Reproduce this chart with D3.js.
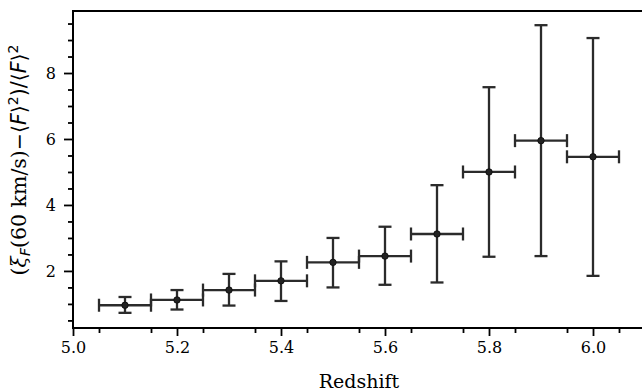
<!DOCTYPE html>
<html><head><meta charset="utf-8">
<script src="https://cdn.jsdelivr.net/npm/d3@7"></script>
<style>body{margin:0;background:#fff}svg{display:block}</style>
</head><body>
<svg id="c" width="642" height="392"></svg>
<script>
const redshift = [5.1, 5.2, 5.3, 5.4, 5.5, 5.6, 5.7, 5.8, 5.9, 6.0];
const values   = [0.96, 1.12, 1.42, 1.70, 2.26, 2.45, 3.12, 5.00, 5.95, 5.46];
const errLow   = [0.73, 0.83, 0.95, 1.09, 1.50, 1.58, 1.65, 2.43, 2.45, 1.85];
const errHigh  = [1.21, 1.42, 1.91, 2.29, 3.00, 3.34, 4.60, 7.57, 9.45, 9.06];
const binHalf  = [0.05, 0.05, 0.05, 0.05, 0.05, 0.05, 0.05, 0.05, 0.05, 0.05];
const xTicks = [5.0, 5.2, 5.4, 5.6, 5.8, 6.0];
const yTicks = [2, 4, 6, 8];

const svg = d3.select("#c");
const L = 73, T = 11, B = 328, R = 645;
const x = d3.scaleLinear().domain([5.0, 6.1]).range([L, R]);
const y = d3.scaleLinear().domain([0.27, 9.88]).range([B, T]);
const ink = "#2b2b2b";
const serif = "DejaVu Serif";

const xAxis = d3.axisBottom(x).tickValues(xTicks).tickFormat(d3.format(".1f")).tickSize(8).tickPadding(6);
const xMinor = d3.axisBottom(x).tickValues(d3.range(5.05, 6.1, 0.1)).tickFormat("").tickSize(5);
const yAxis = d3.axisLeft(y).tickValues(yTicks).tickFormat(d3.format("d")).tickSize(9).tickPadding(8);
const yMinor = d3.axisLeft(y).tickValues(d3.range(0.5, 9.9, 0.5).filter(v => v % 2 !== 0)).tickFormat("").tickSize(5);

function style(g){
  g.select(".domain").remove();
  g.selectAll("line").attr("stroke","#000").attr("stroke-width",1.8);
  g.selectAll("text").attr("font-family",serif).attr("font-size",16).attr("fill","#000");
}
svg.append("g").attr("transform",`translate(0,${B})`).call(xAxis).call(style);
svg.append("g").attr("transform",`translate(0,${B})`).call(xMinor).call(style);
svg.append("g").attr("transform",`translate(${L},0)`).call(yAxis).call(style);
svg.append("g").attr("transform",`translate(${L},0)`).call(yMinor).call(style);

svg.append("rect").attr("x",L).attr("y",T).attr("width",R-L).attr("height",B-T)
  .attr("fill","none").attr("stroke","#000").attr("stroke-width",2);

const g = svg.append("g").attr("stroke",ink).attr("stroke-width",2.3).attr("fill","none");
const cap = 6.5;
redshift.forEach((z,i)=>{
  const cx = x(z), cy = y(values[i]);
  const xl = x(z-binHalf[i]), xr = x(z+binHalf[i]);
  const yt = y(errHigh[i]), yb = y(errLow[i]);
  g.append("line").attr("x1",xl).attr("x2",xr).attr("y1",cy).attr("y2",cy);
  g.append("line").attr("x1",cx).attr("x2",cx).attr("y1",yt).attr("y2",yb);
  g.append("line").attr("x1",xl).attr("x2",xl).attr("y1",cy-cap).attr("y2",cy+cap);
  g.append("line").attr("x1",xr).attr("x2",xr).attr("y1",cy-cap).attr("y2",cy+cap);
  g.append("line").attr("x1",cx-cap).attr("x2",cx+cap).attr("y1",yt).attr("y2",yt);
  g.append("line").attr("x1",cx-cap).attr("x2",cx+cap).attr("y1",yb).attr("y2",yb);
});
svg.append("g").selectAll("circle").data(redshift).join("circle")
  .attr("cx",d=>x(d)).attr("cy",(d,i)=>y(values[i])).attr("r",3.2)
  .attr("fill","#222").attr("stroke","#111").attr("stroke-width",1);

svg.append("text").attr("x",(L+R)/2).attr("y",388).attr("text-anchor","middle")
  .attr("font-family",serif).attr("font-size",19).text("Redshift");

const fs = 20.5, fss = 14;
const yl = svg.append("text").attr("transform",`translate(26,160) rotate(-90)`)
  .attr("text-anchor","middle").attr("font-family",serif).attr("font-size",fs);
yl.append("tspan").text("(");
yl.append("tspan").attr("font-style","italic").text("ξ");
yl.append("tspan").attr("font-family","DejaVu Sans").attr("font-style","italic").attr("font-size",fss).attr("dy",4).text("F");
yl.append("tspan").attr("dy",-4).text("(60 km/s)");
yl.append("tspan").attr("font-family","DejaVu Sans").text("−⟨");
yl.append("tspan").attr("font-family","DejaVu Sans").attr("font-style","italic").text("F");
yl.append("tspan").attr("font-family","DejaVu Sans").text("⟩");
yl.append("tspan").attr("font-family","DejaVu Sans").attr("font-size",fss).attr("dy",-8).text("2");
yl.append("tspan").attr("font-family","DejaVu Sans").attr("dy",8).text(")/⟨");
yl.append("tspan").attr("font-family","DejaVu Sans").attr("font-style","italic").text("F");
yl.append("tspan").attr("font-family","DejaVu Sans").text("⟩");
yl.append("tspan").attr("font-family","DejaVu Sans").attr("font-size",fss).attr("dy",-8).text("2");
</script>
</body></html>
